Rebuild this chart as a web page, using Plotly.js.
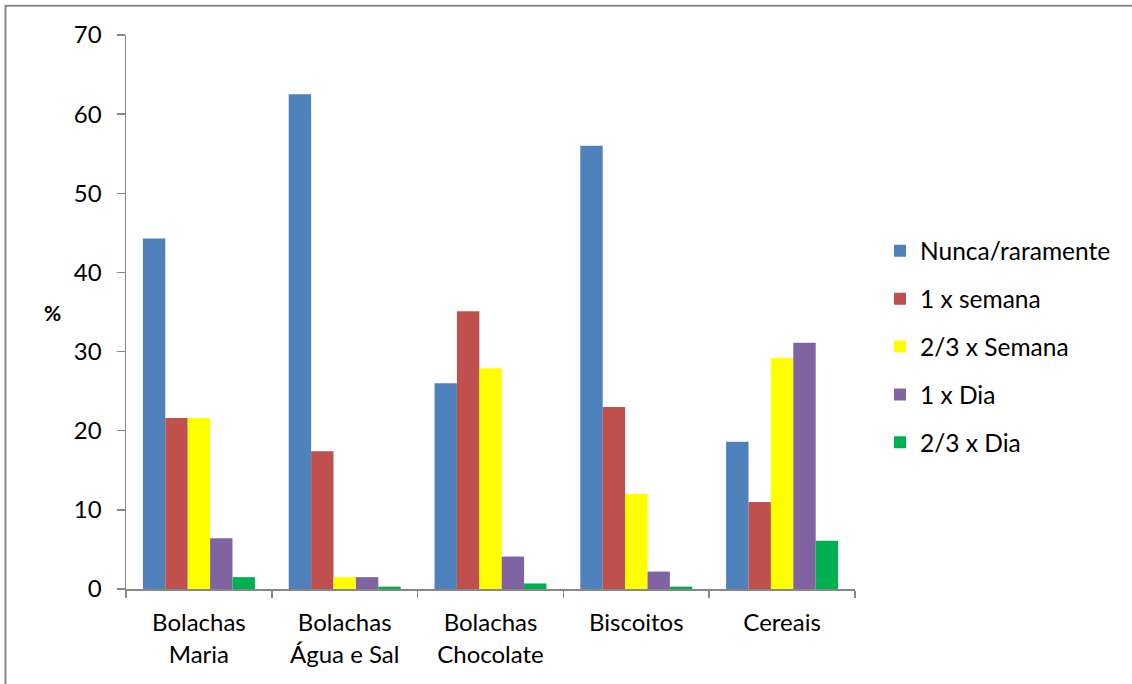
<!DOCTYPE html>
<html>
<head>
<meta charset="utf-8">
<script src="https://cdn.plot.ly/plotly-3.0.1.min.js"></script>
<style>
  html, body { margin: 0; padding: 0; background: #ffffff; }
  #chart { width: 1132px; height: 684px; }
</style>
</head>
<body>
<div id="chart"></div>
<script>
// Product categories (x axis)
const categories = [
  'Bolachas<br>Maria',
  'Bolachas<br>Água e Sal',
  'Bolachas<br>Chocolate',
  'Biscoitos',
  'Cereais'
];

// Frequency-of-consumption series (%)
const seriesNames = ['Nunca/raramente', '1 x semana', '2/3 x Semana', '1 x Dia', '2/3 x Dia'];
const nuncaRaramente = [44.3, 62.5, 26.0, 56.0, 18.6];
const umSemana       = [21.6, 17.4, 35.1, 23.0, 11.0];
const duasTresSemana = [21.6, 1.5, 27.9, 12.0, 29.2];
const umDia          = [6.4, 1.5, 4.1, 2.2, 31.1];
const duasTresDia    = [1.5, 0.3, 0.7, 0.3, 6.1];

const seriesValues = [nuncaRaramente, umSemana, duasTresSemana, umDia, duasTresDia];
const seriesColors = ['#4F81BD', '#C0504D', '#FFFF00', '#8064A2', '#00B050'];

const FONT = 'Lato, "Open Sans", sans-serif';
const AXIS_GREY = '#878787';

const traces = seriesNames.map((name, i) => ({
  type: 'bar',
  name: name,
  x: categories,
  y: seriesValues[i],
  legendgroup: 'g' + i,
  marker: { color: seriesColors[i] },
  hoverinfo: 'x+y+name'
}));

const layout = {
  width: 1132,
  height: 684,
  margin: { l: 126, r: 277, t: 35, b: 95 },
  paper_bgcolor: '#ffffff',
  plot_bgcolor: '#ffffff',
  font: { family: FONT, size: 24, color: '#000000' },
  barmode: 'group',
  bargap: 0.232,
  bargroupgap: 0,
  showlegend: true,
  legend: {
    x: 1.0343,
    xanchor: 'left',
    y: 0.437,
    yanchor: 'middle',
    font: { family: FONT, size: 24.5, color: '#000000' },
    tracegroupgap: 13,
    bgcolor: 'rgba(0,0,0,0)'
  },
  xaxis: {
    type: 'category',
    showline: true,
    linecolor: AXIS_GREY,
    linewidth: 1.5,
    ticks: 'outside',
    tickson: 'boundaries',
    ticklen: 7,
    tickcolor: AXIS_GREY,
    tickwidth: 1.5,
    showgrid: false,
    zeroline: false,
    tickfont: { family: FONT, size: 24, color: '#000000' },
    ticklabelstandoff: 12
  },
  yaxis: {
    range: [0, 70],
    dtick: 10,
    showline: true,
    linecolor: AXIS_GREY,
    linewidth: 1.5,
    ticks: 'outside',
    ticklen: 8,
    tickcolor: AXIS_GREY,
    tickwidth: 1.5,
    showgrid: false,
    zeroline: false,
    tickfont: { family: FONT, size: 24, color: '#000000' },
    ticklabelstandoff: 10
  },
  annotations: [
    {
      text: '<b>%</b>',
      xref: 'paper', yref: 'paper',
      x: -0.1015, y: 0.4987,
      xanchor: 'center', yanchor: 'middle',
      showarrow: false,
      font: { family: FONT, size: 21, color: '#000000' }
    }
  ],
  shapes: [
    // outer frame of the chart area (left and top edges)
    {
      type: 'path',
      xref: 'paper', yref: 'paper',
      path: 'M -0.1653,-0.3 L -0.1653,1.0529 L 1.6,1.0529',
      line: { color: '#8a8a8a', width: 2 }
    }
  ]
};

Plotly.newPlot('chart', traces, layout, { displayModeBar: false, staticPlot: true });
</script>
</body>
</html>
